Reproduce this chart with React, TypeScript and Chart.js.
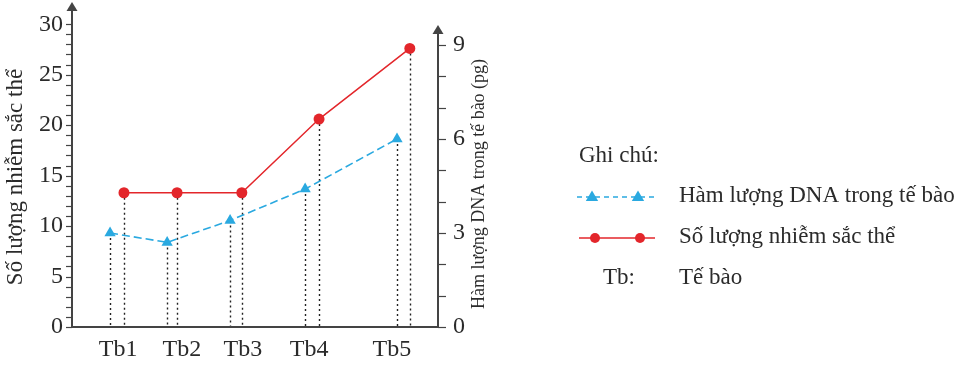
import React, { useEffect, useRef } from 'react';
import Chart from 'chart.js/auto';

const categories = ['Tb1', 'Tb2', 'Tb3', 'Tb4', 'Tb5'];
const categoryPositions = [1.26, 3.0, 4.67, 6.48, 8.74];
const dnaPositions = [1.04, 2.6, 4.32, 6.37, 8.88];
const chromosomePositions = [1.42, 2.87, 4.64, 6.75, 9.23];
const dnaValues = [3.0, 2.7, 3.4, 4.4, 6.0];
const chromosomeValues = [13.3, 13.3, 13.3, 20.6, 27.6];
const leftTicks = [0, 5, 10, 15, 20, 25, 30];
const rightTicks = [0, 3, 6, 9];
const leftMinorMax = 30;
const rightMinorMax = 9;

const leftTitle = 'Số lượng nhiễm sắc thể';
const rightTitle = 'Hàm lượng DNA trong tế bào (pg)';
const legendTitle = 'Ghi chú:';
const dnaLabel = 'Hàm lượng DNA trong tế bào';
const chromLabel = 'Số lượng nhiễm sắc thể';
const tbKey = 'Tb:';
const tbLabel = 'Tế bào';

const FONT = "'Liberation Serif', 'DejaVu Serif', serif";
const TEXT = '#2b2b2b';
const AXIS = '#444444';
const BLUE = '#2aa9e0';
const RED = '#e3262b';

function drawTriangle(ctx: CanvasRenderingContext2D, x: number, y: number, r: number, color: string) {
  ctx.save();
  ctx.fillStyle = color;
  ctx.beginPath();
  ctx.moveTo(x, y - r);
  ctx.lineTo(x + r * 0.95, y + r * 0.6);
  ctx.lineTo(x - r * 0.95, y + r * 0.6);
  ctx.closePath();
  ctx.fill();
  ctx.restore();
}

function drawCircle(ctx: CanvasRenderingContext2D, x: number, y: number, r: number, color: string) {
  ctx.save();
  ctx.fillStyle = color;
  ctx.beginPath();
  ctx.arc(x, y, r, 0, Math.PI * 2);
  ctx.fill();
  ctx.restore();
}

const decorPlugin = {
  id: 'decor',
  beforeDatasetsDraw(chart: any) {
    const ctx = chart.ctx as CanvasRenderingContext2D;
    const bottom = chart.chartArea.bottom;
    ctx.save();
    ctx.strokeStyle = '#222';
    ctx.lineWidth = 1.4;
    ctx.setLineDash([2, 3]);
    chart.data.datasets.forEach((_: any, i: number) => {
      chart.getDatasetMeta(i).data.forEach((pt: any) => {
        ctx.beginPath();
        ctx.moveTo(Math.round(pt.x) + 0.5, pt.y);
        ctx.lineTo(Math.round(pt.x) + 0.5, bottom);
        ctx.stroke();
      });
    });
    ctx.restore();
  },
  afterDraw(chart: any) {
    const ctx = chart.ctx as CanvasRenderingContext2D;
    const { left, right, top, bottom } = chart.chartArea;
    const yL = chart.scales.y;
    const yR = chart.scales.y1;
    ctx.save();
    ctx.strokeStyle = AXIS;
    ctx.fillStyle = AXIS;
    ctx.lineWidth = 2;
    // left axis
    ctx.beginPath();
    ctx.moveTo(left, bottom + 1);
    ctx.lineTo(left, top + 8);
    ctx.stroke();
    ctx.beginPath();
    ctx.moveTo(left, top);
    ctx.lineTo(left + 5.5, top + 9);
    ctx.lineTo(left - 5.5, top + 9);
    ctx.closePath();
    ctx.fill();
    // right axis
    const rTop = yR.getPixelForValue(9.64);
    ctx.beginPath();
    ctx.moveTo(right, bottom + 1);
    ctx.lineTo(right, rTop + 8);
    ctx.stroke();
    ctx.beginPath();
    ctx.moveTo(right, rTop);
    ctx.lineTo(right + 5.5, rTop + 9);
    ctx.lineTo(right - 5.5, rTop + 9);
    ctx.closePath();
    ctx.fill();
    // bottom axis
    ctx.beginPath();
    ctx.moveTo(left - 1, bottom);
    ctx.lineTo(right + 1, bottom);
    ctx.stroke();
    // left ticks
    ctx.lineWidth = 1.2;
    for (let v = 0; v <= leftMinorMax; v++) {
      const py = Math.round(yL.getPixelForValue(v)) + 0.5;
      ctx.beginPath();
      ctx.moveTo(left - 6, py);
      ctx.lineTo(left, py);
      ctx.stroke();
    }
    // right ticks
    for (let v = 0; v <= rightMinorMax; v++) {
      const py = Math.round(yR.getPixelForValue(v)) + 0.5;
      ctx.beginPath();
      ctx.moveTo(right, py);
      ctx.lineTo(right + 8, py);
      ctx.stroke();
    }
    // titles
    ctx.fillStyle = TEXT;
    ctx.textAlign = 'center';
    ctx.textBaseline = 'middle';
    ctx.save();
    ctx.translate(16, 177);
    ctx.rotate(-Math.PI / 2);
    ctx.font = `23px ${FONT}`;
    ctx.fillText(leftTitle, 0, 0);
    ctx.restore();
    ctx.save();
    ctx.translate(479, 184);
    ctx.rotate(-Math.PI / 2);
    ctx.font = `18px ${FONT}`;
    ctx.fillText(rightTitle, 0, 0);
    ctx.restore();

    // legend
    ctx.font = `23px ${FONT}`;
    ctx.textAlign = 'left';
    ctx.fillText(legendTitle, 579, 156);
    // dna entry
    ctx.save();
    ctx.strokeStyle = BLUE;
    ctx.lineWidth = 1.5;
    ctx.setLineDash([5, 4]);
    ctx.beginPath();
    ctx.moveTo(577, 197);
    ctx.lineTo(654, 197);
    ctx.stroke();
    ctx.restore();
    drawTriangle(ctx, 592, 197, 6.5, BLUE);
    drawTriangle(ctx, 638, 197, 6.5, BLUE);
    ctx.fillText(dnaLabel, 679, 196);
    // chrom entry
    ctx.save();
    ctx.strokeStyle = RED;
    ctx.lineWidth = 1.5;
    ctx.beginPath();
    ctx.moveTo(579, 238);
    ctx.lineTo(655, 238);
    ctx.stroke();
    ctx.restore();
    drawCircle(ctx, 595, 238, 5, RED);
    drawCircle(ctx, 640, 238, 5, RED);
    ctx.fillText(chromLabel, 679, 237);
    // Tb
    ctx.fillText(tbKey, 603, 278);
    ctx.fillText(tbLabel, 679, 278);
    ctx.restore();
  },
};

export default function App() {
  const ref = useRef<HTMLCanvasElement | null>(null);
  useEffect(() => {
    if (!ref.current) return;
    Chart.defaults.font.family = FONT;
    const chart = new Chart(ref.current, {
      type: 'line',
      data: {
        datasets: [
          {
            label: dnaLabel,
            data: dnaPositions.map((x, i) => ({ x, y: dnaValues[i] })),
            yAxisID: 'y1',
            borderColor: BLUE,
            backgroundColor: BLUE,
            borderWidth: 1.6,
            borderDash: [8, 4],
            pointStyle: 'triangle',
            pointRadius: 6.5,
            pointBorderWidth: 0,
            tension: 0,
          },
          {
            label: chromLabel,
            data: chromosomePositions.map((x, i) => ({ x, y: chromosomeValues[i] })),
            yAxisID: 'y',
            borderColor: RED,
            backgroundColor: RED,
            borderWidth: 1.5,
            pointStyle: 'circle',
            pointRadius: 5.5,
            pointBorderWidth: 0,
            tension: 0,
          },
        ],
      },
      options: {
        responsive: false,
        animation: false,
        layout: { autoPadding: false, padding: { left: 0, right: 480, top: 2, bottom: 0 } },
        plugins: { legend: { display: false }, tooltip: { enabled: false } },
        scales: {
          x: {
            type: 'linear',
            min: 0,
            max: 10,
            grid: { display: false, drawTicks: false },
            border: { display: false },
            afterBuildTicks: (scale: any) => {
              scale.ticks = categoryPositions.map((v) => ({ value: v }));
            },
            afterFit: (scale: any) => {
              scale.height = 46;
              scale.paddingLeft = 0;
              scale.paddingRight = 0;
            },
            ticks: {
              autoSkip: false,
              maxRotation: 0,
              padding: 8,
              color: TEXT,
              font: { size: 24, family: FONT },
              callback: (value: any) => {
                const idx = categoryPositions.indexOf(Number(value));
                return idx >= 0 ? categories[idx] : '';
              },
            },
          },
          y: {
            type: 'linear',
            position: 'left',
            min: 0,
            max: 32.2,
            grid: { display: false, drawTicks: false },
            border: { display: false },
            afterBuildTicks: (scale: any) => {
              scale.ticks = leftTicks.map((v) => ({ value: v }));
            },
            afterFit: (scale: any) => {
              scale.width = 72;
              scale.paddingTop = 0;
              scale.paddingBottom = 0;
            },
            ticks: {
              autoSkip: false,
              padding: 9,
              color: TEXT,
              font: { size: 24, family: FONT },
            },
          },
          y1: {
            type: 'linear',
            position: 'right',
            min: 0,
            max: 10.37,
            grid: { display: false, drawTicks: false },
            border: { display: false },
            afterBuildTicks: (scale: any) => {
              scale.ticks = rightTicks.map((v) => ({ value: v }));
            },
            afterFit: (scale: any) => {
              scale.width = 52;
              scale.paddingTop = 0;
              scale.paddingBottom = 0;
            },
            ticks: {
              autoSkip: false,
              padding: 15,
              color: TEXT,
              font: { size: 24, family: FONT },
            },
          },
        },
      },
      plugins: [decorPlugin],
    } as any);
    return () => chart.destroy();
  }, []);
  return (
    <div style={{ position: 'absolute', left: 0, top: 0, width: 970, height: 373, background: '#fff' }}>
      <canvas ref={ref} width={970} height={373} />
    </div>
  );
}
